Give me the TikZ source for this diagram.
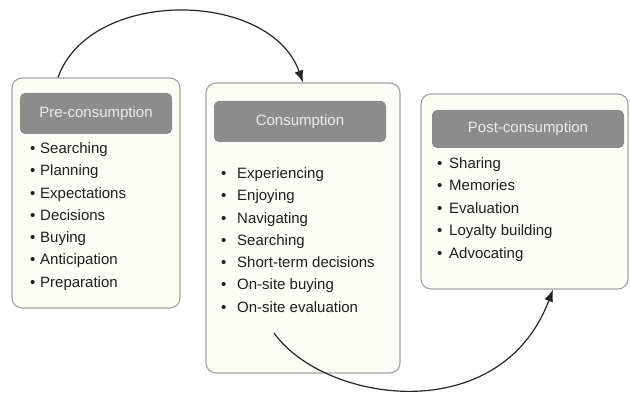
\documentclass[tikz,border=0pt]{standalone}
\usepackage{fontspec}
\setmainfont{Liberation Sans}
\usetikzlibrary{arrows.meta}
\definecolor{panelfill}{HTML}{FDFDF8}
\definecolor{panelline}{HTML}{A4A4A4}
\definecolor{headfill}{HTML}{8C8C8C}
\definecolor{headtext}{HTML}{EDEDED}
\definecolor{itemtext}{HTML}{1E1E1E}
\tikzset{
  panel/.style={draw=panelline, line width=1.1pt, fill=panelfill,
    rounded corners=10pt, inner sep=0pt},
  header/.style={fill=headfill, rounded corners=5pt, inner sep=0pt,
    text=headtext, font=\fontsize{15}{18}\selectfont},
  item/.style={anchor=base west, inner sep=0pt, text=itemtext,
    font=\fontsize{15}{18}\selectfont},
  flow/.style={line width=1.2pt, draw=black!85,
    -{Latex[length=12pt,width=9pt]}}
}
\newcommand{\bul}[1]{\makebox[#1][l]{\textbullet}}
\begin{document}
\begin{tikzpicture}[x=1pt,y=1pt]
  \useasboundingbox[fill=white] (0,0) rectangle (630,393);

  % stage panels
  \node[panel, minimum width=168pt, minimum height=230pt] (pre) at (96,200) {};
  \node[panel, minimum width=194pt, minimum height=290pt] (con) at (303,165) {};
  \node[panel, minimum width=207pt, minimum height=195pt] (post) at (524.5,201.5) {};

  % panel titles
  \node[header, minimum width=152pt, minimum height=41pt] (preh) at (96,279.5) {Pre-consumption};
  \node[header, minimum width=172pt, minimum height=41pt] (conh) at (300,271.5) {Consumption};
  \node[header, minimum width=192pt, minimum height=38pt] (posth) at (528,264) {Post-consumption};

  % activity lists
  \foreach \t [count=\i] in {Searching, Planning, Expectations, Decisions,
      Buying, Anticipation, Preparation}
    \node[item] (prei\i) at (30, 239.5-22.3*\i+22.3) {\bul{10pt}\t};
  \foreach \t [count=\i] in {Experiencing, Enjoying, Navigating, Searching,
      Short-term decisions, On-site buying, On-site evaluation}
    \node[item] (coni\i) at (221, 214.5-22.3*\i+22.3) {\bul{16pt}\t};
  \foreach \t [count=\i] in {Sharing, Memories, Evaluation, Loyalty building,
      Advocating}
    \node[item] (posti\i) at (437, 224.5-22.5*\i+22.5) {\bul{12pt}\t};

  % transitions between stages
  \draw[flow] ([xshift=-38pt]pre.north) .. controls +(32,90) and +(-33,93) .. (con.north);
  \coordinate (contail) at (274,60);
  \draw[flow] (contail) .. controls +(50,-70) and +(-53,-140) .. ([xshift=28.5pt]post.south);
\end{tikzpicture}
\end{document}
